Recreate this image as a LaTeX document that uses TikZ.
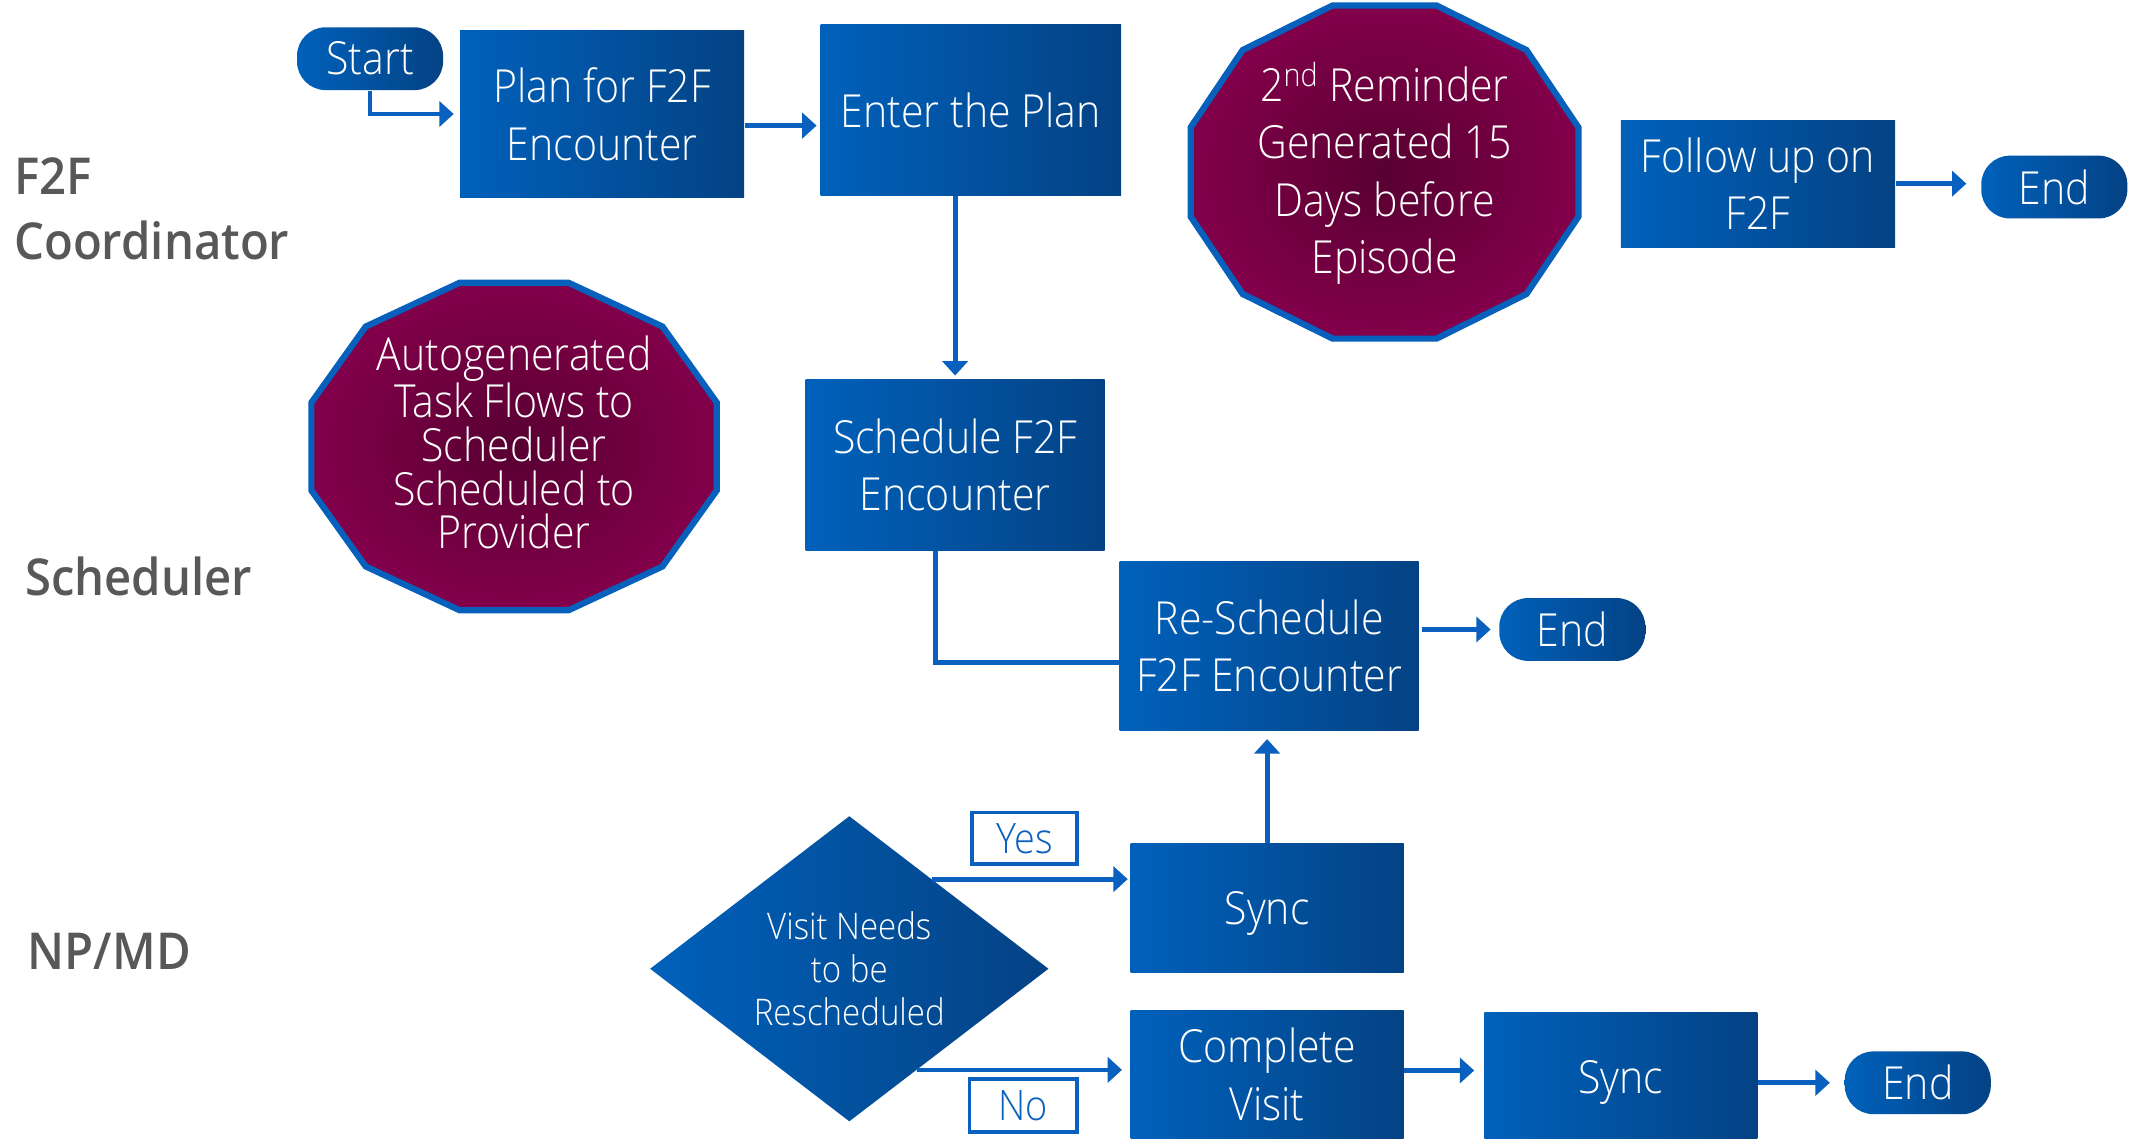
\documentclass[tikz,border=0pt]{standalone}
\usepackage{fontspec}
\setmainfont{Open Sans Light}[FakeStretch=0.9]
\newfontfamily\lanefont{Open Sans Semibold}[FakeStretch=0.93]
\usetikzlibrary{shapes.geometric,arrows.meta,calc}
\definecolor{bL}{RGB}{0,97,187}
\definecolor{bR}{RGB}{4,66,132}
\definecolor{lineblue}{RGB}{10,96,190}
\definecolor{plumedge}{RGB}{130,0,74}
\definecolor{plumcenter}{RGB}{88,0,50}
\definecolor{octborder}{RGB}{6,96,188}
\definecolor{lanegray}{RGB}{88,88,91}
\tikzset{
  proc/.style={rectangle, left color=bL, right color=bR, text=white, align=center,
    inner sep=0pt, font=\fontsize{19}{24}\selectfont},
  term/.style={proc, rounded corners=0.42cm, minimum width=2.14cm, minimum height=0.92cm},
  decis/.style={diamond, left color=bL, right color=bR, text=white, align=center,
    inner sep=0pt, font=\fontsize{15.3}{18}\selectfont},
  lbl/.style={rectangle, draw=lineblue, line width=1.6pt, fill=white, text=lineblue,
    inner sep=0pt, font=\fontsize{17.5}{24}\selectfont},
  octa/.style={draw=octborder, line width=2.6pt, line join=miter, inner color=plumcenter, outer color=plumedge},
  octtext/.style={text=white, align=center, inner sep=0pt},
  lane/.style={anchor=west, align=left, text=lanegray, inner sep=0pt,
    font=\lanefont\fontsize{21.2}{27}\selectfont},
  conn/.style={draw=lineblue, line width=2pt, -{Triangle[length=6pt,width=10.5pt]}},
  plainline/.style={draw=lineblue, line width=2pt},
}
\begin{document}
\begin{tikzpicture}[x=0.02cm,y=-0.02cm]
\useasboundingbox (0,0) rectangle (1568,834);

% lane labels
\node[lane] (lane1) at (10,153) {F2F\\Coordinator};
\node[lane] (lane2) at (18,422) {Scheduler};
\node[lane] (lane3) at (20,697) {NP/MD};

% twelve-sided shapes
\coordinate (remc) at (1014,126);
\draw[octa] (remc) +(15:147 and 126.3) -- +(45:147 and 126.3) -- +(75:147 and 126.3)
  -- +(105:147 and 126.3) -- +(135:147 and 126.3) -- +(165:147 and 126.3)
  -- +(195:147 and 126.3) -- +(225:147 and 126.3) -- +(255:147 and 126.3)
  -- +(285:147 and 126.3) -- +(315:147 and 126.3) -- +(345:147 and 126.3) -- cycle;
\node[octtext, font=\fontsize{19}{24}\selectfont] (remind) at (1014,127)
  {2\textsuperscript{nd} Reminder\\Generated 15\\Days before\\Episode};

\coordinate (autoc) at (376.5,327);
\draw[octa] (autoc) +(15:153.7 and 124.2) -- +(45:153.7 and 124.2) -- +(75:153.7 and 124.2)
  -- +(105:153.7 and 124.2) -- +(135:153.7 and 124.2) -- +(165:153.7 and 124.2)
  -- +(195:153.7 and 124.2) -- +(225:153.7 and 124.2) -- +(255:153.7 and 124.2)
  -- +(285:153.7 and 124.2) -- +(315:153.7 and 124.2) -- +(345:153.7 and 124.2) -- cycle;
\node[octtext, font=\fontsize{19}{18.2}\selectfont] (auto) at (376.5,324)
  {Autogenerated\\Task Flows to\\Scheduler\\Scheduled to\\Provider};

% nodes
\node[term] (start) at (271,43) {Start};
\node[proc, minimum width=4.16cm, minimum height=2.46cm] (plan) at (441,83.5) {Plan for F2F\\Encounter};
\node[proc, minimum width=4.4cm, minimum height=2.5cm] (enter) at (711,80.5) {Enter the Plan};
\node[proc, minimum width=4.02cm, minimum height=1.86cm] (follow) at (1287.5,134.5) {Follow up on\\F2F};
\node[term] (end1) at (1504.5,137) {End};
\node[proc, minimum width=4.38cm, minimum height=2.5cm] (sched) at (699.5,340.5) {Schedule F2F\\Encounter};
\node[proc, minimum width=4.38cm, minimum height=2.48cm] (resched) at (929.5,473) {Re-Schedule\\F2F Encounter};
\node[term] (end2) at (1151.5,461) {End};
\node[decis, minimum width=5.84cm, minimum height=4.34cm] (dec) at (622,709.5) {Visit Needs\\to be\\Rescheduled};
\node[proc, text depth=0pt, minimum width=4.0cm, minimum height=1.88cm] (sync1) at (928,665) {Sync};
\node[proc, minimum width=4.0cm, minimum height=1.88cm] (complete) at (928,787) {Complete\\Visit};
\node[proc, text depth=0pt, minimum width=4.0cm, minimum height=1.9cm] (sync2) at (1187,789) {Sync};
\node[term] (end3) at (1404.5,793) {End};
\node[lbl, minimum width=1.54cm, minimum height=0.76cm] (yes) at (750.5,614) {Yes};
\node[lbl, minimum width=1.58cm, minimum height=0.78cm] (no) at (749.5,809.5) {No};

% connectors
\draw[conn, shorten >=2.5pt] (start.south) |- (plan.west);
\draw[conn, shorten >=1.5pt] ([yshift=-0.17cm]plan.east) coordinate (pa) -- (pa -| enter.west);
\draw[conn, shorten >=1.5pt] (sched.north |- enter.south) -- (sched.north);
\draw[plainline] ([xshift=-0.29cm]sched.south) |- ([yshift=-0.24cm]resched.west);
\draw[conn, shorten >=3.4pt] (sync1.north) -- (resched.south -| sync1.north);
\draw[conn, shorten >=3.4pt] ([xshift=1pt]resched.east |- end2.west) -- (end2.west);
\draw[conn, shorten >=1pt] ($(dec.north)!0.415!(dec.east)$) coordinate (ya) -- (ya -| sync1.west);
\draw[conn, shorten >=3.4pt] ($(dec.south)!0.34!(dec.east)$) coordinate (na) -- (na -| complete.west);
\draw[conn, shorten >=4pt] ([yshift=0.06cm]complete.east) coordinate (ca) -- (ca -| sync2.west);
\draw[conn, shorten >=6pt] (sync2.east |- end3.west) -- (end3.west);
\draw[conn, shorten >=6pt] (follow.east) -- (follow.east -| end1.west);
\end{tikzpicture}
\end{document}
